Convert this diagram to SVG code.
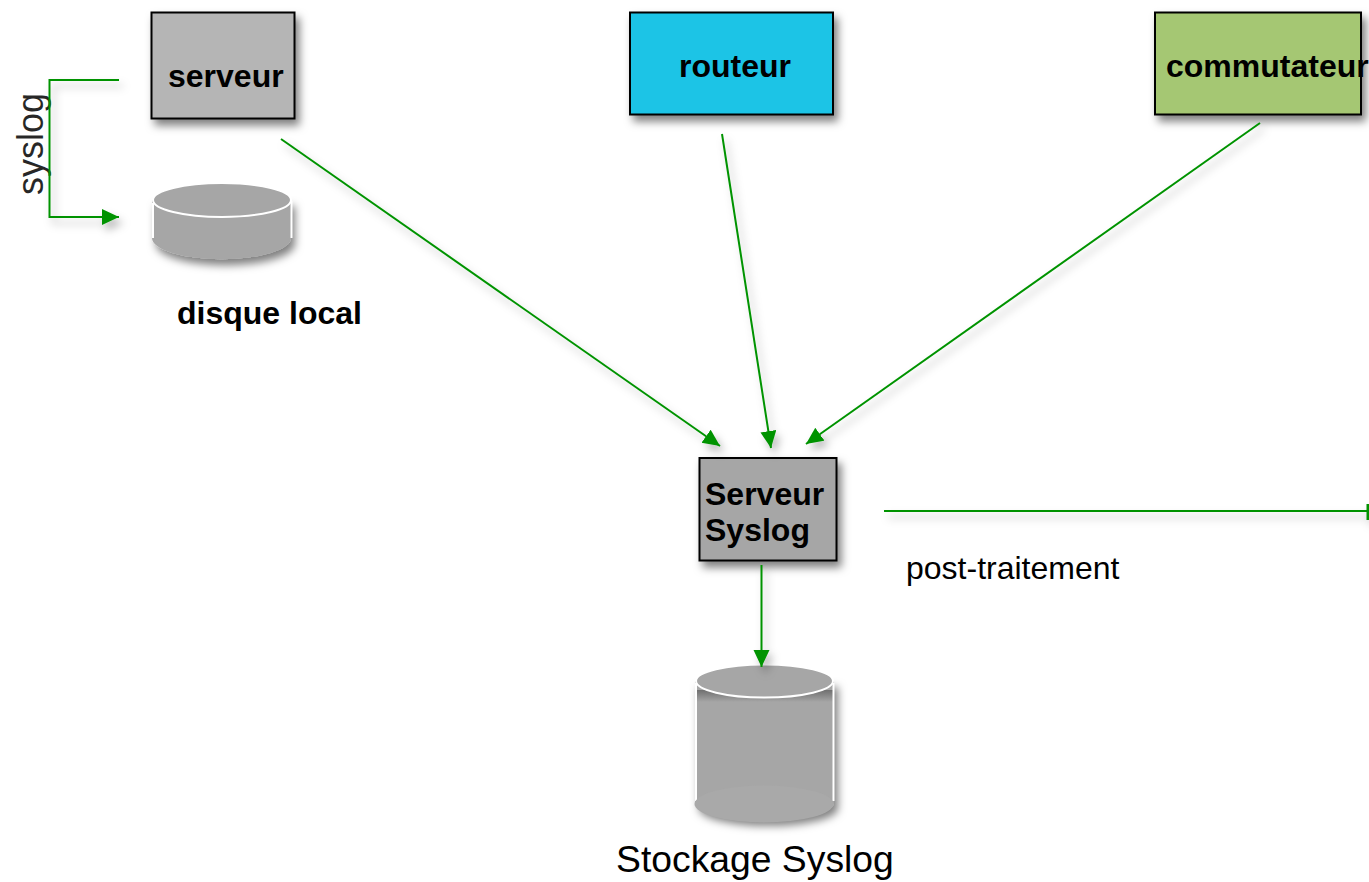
<svg xmlns="http://www.w3.org/2000/svg" width="1369" height="882" viewBox="0 0 1369 882">
<defs>
<filter id="sh" x="-30%" y="-30%" width="170%" height="170%"><feDropShadow dx="4" dy="6" stdDeviation="4" flood-color="#000" flood-opacity="0.5"/></filter>
<filter id="shl" x="0" y="0" width="1369" height="882" filterUnits="userSpaceOnUse" primitiveUnits="userSpaceOnUse"><feDropShadow dx="4" dy="6" stdDeviation="4" flood-color="#000" flood-opacity="0.28"/></filter>
<linearGradient id="under" x1="0" y1="0" x2="0" y2="1"><stop offset="0" stop-color="#6f6f6f"/><stop offset="0.3" stop-color="#a6a6a6"/></linearGradient>
<marker id="arr" markerUnits="userSpaceOnUse" markerWidth="19" markerHeight="18" refX="17" refY="8" orient="auto"><path d="M0,0L17,8L0,16Z" fill="#049304"/></marker>
</defs>
<style>
.box{stroke:#000;stroke-width:2;filter:url(#sh)}
.lab{font-family:"Liberation Sans",Arial,sans-serif;fill:#000}
.b{font-weight:bold}
.c{fill:none;stroke:#049304;stroke-width:2}
.cyl{fill:#a6a6a6}
.rim{fill:#a6a6a6;stroke:#fff;stroke-width:2}
.edge{stroke:#fff;stroke-width:2;fill:none}
</style>
<rect width="1369" height="882" fill="#fff"/>
<g id="serveur">
<rect class="box" x="151.500" y="12.500" width="143" height="106" fill="#b5b5b5"/>
<text class="lab b" x="168" y="87" font-size="32">serveur</text>
</g>
<g id="routeur">
<rect class="box" x="630" y="12.500" width="203" height="102" fill="#1fc4e6"/>
<text class="lab b" x="679" y="77" font-size="32">routeur</text>
</g>
<g id="commutateur">
<rect class="box" x="1155" y="12.500" width="206" height="102" fill="#a5c773"/>
<text class="lab b" x="1166" y="77" font-size="32">commutateur</text>
</g>
<g id="syslog-label">
<text class="lab" transform="translate(43 195) rotate(-90)" font-size="36" fill-opacity="0.85">syslog</text>
</g>
<g id="disque-local">
<g filter="url(#sh)"><path class="cyl" d="M152 200V238A69 21 0 0 0 291 238V200Z"/></g>
<path class="edge" d="M153 203V238M291.500 201V238"/>
<ellipse class="rim" cx="222" cy="200" rx="69" ry="17"/>
<text class="lab b" x="177" y="324" font-size="32">disque local</text>
</g>
<g id="serveur-syslog">
<rect class="box" x="699.500" y="458" width="137" height="102.500" fill="#a6a6a6"/>
<text class="lab b" font-size="32"><tspan x="705" y="505">Serveur</tspan><tspan x="705" y="541">Syslog</tspan></text>
</g>
<g id="post-traitement"><text class="lab" x="906" y="579" font-size="32">post-traitement</text></g>
<g id="stockage-syslog">
<g filter="url(#sh)"><path class="cyl" d="M695 681V804A70 18 0 0 0 834 804V681Z"/></g>
<rect x="697" y="690" width="136" height="40" fill="url(#under)"/>
<path class="edge" d="M696 683V801M833.500 683V801"/>
<ellipse cx="764" cy="804" rx="69.500" ry="18.500" fill="#a9a9a9"/>
<ellipse class="rim" cx="764.500" cy="681" rx="68.500" ry="16.500"/>
<text class="lab" x="616" y="872" font-size="37.300">Stockage Syslog</text>
</g>
<g id="connectors" filter="url(#shl)">
<path class="c" d="M119 80H49.500V217H119" marker-end="url(#arr)"/>
<path class="c" d="M281 139L720 446" marker-end="url(#arr)"/>
<path class="c" d="M722 134L771 448" marker-end="url(#arr)"/>
<path class="c" d="M1260 123L806 444" marker-end="url(#arr)"/>
<path class="c" d="M884 511H1368"/>
<path d="M1368 504V520" stroke="#049304" stroke-width="3" fill="none"/>
<path class="c" d="M761.500 565V667" marker-end="url(#arr)"/>
</g>
</svg>
